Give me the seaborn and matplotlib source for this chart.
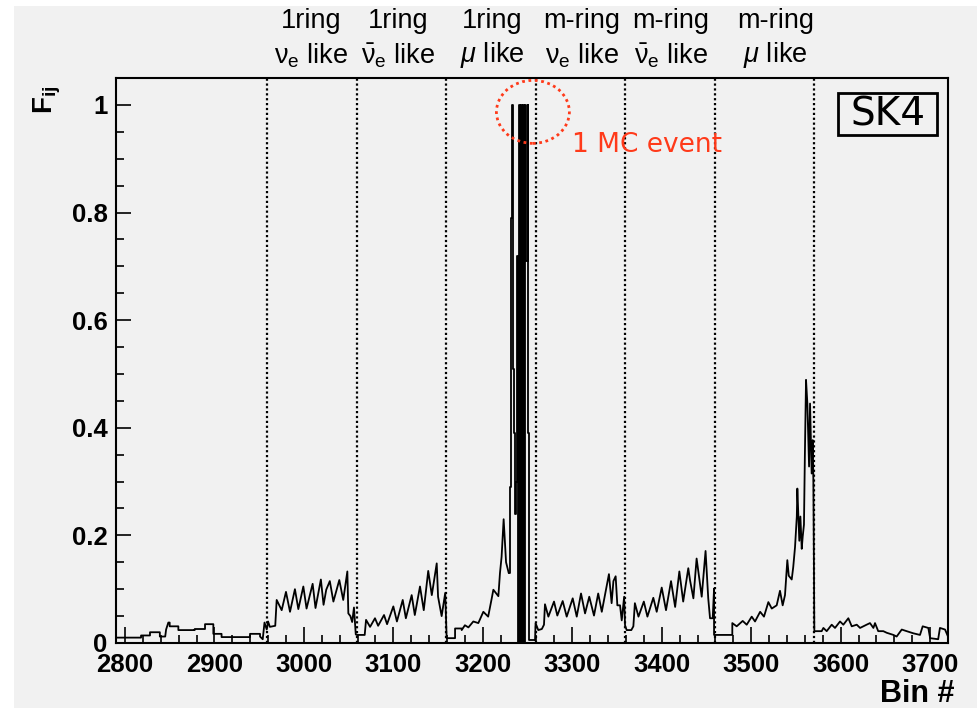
import numpy as np
import pandas as pd
import matplotlib
matplotlib.use("Agg")
import matplotlib.pyplot as plt
from matplotlib.patches import Ellipse, Rectangle
import seaborn as sns

# ---------------- data ----------------
# region: 2790-2959 (low, step-like)
r0_x = [2790, 2818, 2818, 2828, 2828, 2839, 2839, 2845, 2846, 2848.5, 2850, 2850, 2859.7, 2859.7,
        2878, 2878, 2889.5, 2889.5, 2898.8, 2898.8, 2908, 2908, 2919, 2919, 2939.8, 2939.8,
        2951, 2951, 2954, 2956, 2958.5]
r0_y = [0.010, 0.010, 0.014, 0.014, 0.020, 0.020, 0.012, 0.012, 0.025, 0.038, 0.038, 0.031, 0.031,
        0.024, 0.024, 0.026, 0.026, 0.035, 0.035, 0.017, 0.017, 0.011, 0.011, 0.011, 0.011, 0.017,
        0.017, 0.012, 0.007, 0.038, 0.025]
# 1ring nu_e like
r1_x = [2960, 2962, 2968, 2969.6, 2975.2, 2980, 2984.5, 2990, 2993.8, 2999.4, 3003, 3009.8, 3013,
        3019, 3022, 3025, 3029, 3033, 3039.6, 3044, 3048.6, 3049.7, 3052, 3054, 3056, 3058]
r1_y = [0.040, 0.030, 0.032, 0.080, 0.061, 0.095, 0.058, 0.100, 0.063, 0.105, 0.064, 0.110, 0.065,
        0.118, 0.071, 0.099, 0.115, 0.077, 0.117, 0.080, 0.133, 0.055, 0.050, 0.039, 0.066, 0.016]
# 1ring nu_e-bar like
r2_x = [3059, 3068, 3069.5, 3074, 3079.5, 3083, 3089.6, 3093, 3100, 3104, 3110.5, 3114, 3120.5,
        3124, 3129.8, 3134, 3139, 3143, 3148.5, 3150, 3154, 3158]
r2_y = [0.015, 0.015, 0.043, 0.030, 0.046, 0.032, 0.052, 0.035, 0.068, 0.040, 0.080, 0.046, 0.089,
        0.052, 0.105, 0.061, 0.134, 0.089, 0.148, 0.086, 0.050, 0.093]
# 1ring mu like (rising part)
r3_x = [3159.6, 3169, 3169, 3176.4, 3176.4, 3180, 3183.9, 3189.4, 3195, 3200.6, 3206, 3210,
        3211.8, 3217.4, 3219.2, 3221, 3223.3, 3226, 3229]
r3_y = [0.009, 0.009, 0.027, 0.027, 0.024, 0.033, 0.029, 0.040, 0.037, 0.058, 0.049, 0.083,
        0.099, 0.087, 0.130, 0.160, 0.230, 0.150, 0.130]
# 1ring mu like: single-bin spikes (1 MC event), one value per bin
spike_bins = list(range(3229, 3253)) + [3258.4]
spike_vals = [0.13, 0.29, 0.52, 0.79, 1.00, 0.51, 0.39, 0.24, 0.30, 0.72, 0.00, 0.72,
              1.00, 0.00, 1.00, 0.00, 1.00, 0.00, 1.00, 0.71, 0.71, 1.00, 0.39, 0.005, 0.005]
# m-ring nu_e like
r4_x = [3258.4, 3259, 3262, 3266, 3268.4, 3269.5, 3273.3, 3279.6, 3283.3, 3289.3, 3293.8, 3300.5,
        3305, 3309.8, 3314.3, 3319, 3324.3, 3329, 3333, 3341, 3344, 3346, 3348.5, 3350.4, 3353.4,
        3355.3, 3358]
r4_y = [0.005, 0.037, 0.024, 0.026, 0.034, 0.072, 0.049, 0.077, 0.051, 0.078, 0.049, 0.083,
        0.049, 0.092, 0.055, 0.086, 0.051, 0.092, 0.058, 0.128, 0.074, 0.115, 0.124, 0.070, 0.070,
        0.042, 0.086]
# m-ring nu_e-bar like
r5_x = [3359, 3360.8, 3366, 3368.3, 3370, 3374, 3380, 3384, 3390.6, 3394.4, 3400, 3404.8, 3410.4,
        3415, 3419.7, 3424, 3429.7, 3431.6, 3435.4, 3439, 3444.7, 3449, 3452, 3454, 3457, 3458.5]
r5_y = [0.033, 0.024, 0.024, 0.031, 0.074, 0.049, 0.077, 0.049, 0.084, 0.058, 0.103, 0.061, 0.115,
        0.067, 0.133, 0.077, 0.139, 0.117, 0.083, 0.157, 0.086, 0.171, 0.083, 0.046, 0.046, 0.101]
# m-ring mu like
r6_x = [3458.5, 3478.9, 3478.9, 3483.8, 3490.5, 3495, 3500.6, 3504.3, 3510, 3514.3, 3519.2, 3523,
        3528.5, 3532.2, 3535.2, 3537.8, 3540.4, 3542, 3545.3, 3547, 3549, 3551, 3551.6, 3553.8,
        3555, 3556.5, 3557.6, 3559, 3560, 3561.3, 3562.8, 3564.7, 3565.8, 3567.6, 3568.8, 3569.5,
        3570.6]
r6_y = [0.015, 0.015, 0.037, 0.031, 0.041, 0.034, 0.049, 0.040, 0.058, 0.049, 0.076, 0.064,
        0.070, 0.097, 0.070, 0.089, 0.154, 0.125, 0.118, 0.141, 0.178, 0.235, 0.287, 0.190,
        0.235, 0.175, 0.198, 0.220, 0.347, 0.489, 0.445, 0.328, 0.445, 0.315, 0.377, 0.303,
        0.022]
# remaining bins
r7_x = [3578.8, 3580.7, 3584.4, 3590, 3593.7, 3599.3, 3603, 3608.6, 3612.4, 3618, 3621.7, 3629,
        3632.8, 3636.6, 3638.4, 3642, 3647.7, 3651.5, 3659, 3662.6, 3668.3, 3673.8, 3681.3,
        3688.7, 3691.7, 3698, 3700, 3709, 3711, 3716.7, 3720]
r7_y = [0.022, 0.028, 0.022, 0.034, 0.028, 0.040, 0.034, 0.046, 0.031, 0.034, 0.028, 0.034,
        0.037, 0.028, 0.037, 0.022, 0.022, 0.019, 0.015, 0.012, 0.025, 0.022, 0.018, 0.015,
        0.031, 0.028, 0.009, 0.007, 0.028, 0.025, 0.012]

boundaries = [2959, 3059, 3159, 3259, 3359, 3459, 3570]
labels_line1 = ["1ring", "1ring", "1ring", "m-ring", "m-ring", "m-ring"]
labels_line2 = [r"$\mathrm{\nu}_\mathrm{e}$ like", r"$\bar{\mathrm{\nu}}_\mathrm{e}$ like",
                r"$\mu$ like", r"$\mathrm{\nu}_\mathrm{e}$ like",
                r"$\bar{\mathrm{\nu}}_\mathrm{e}$ like", r"$\mu$ like"]
label_pos = [3008, 3105, 3210, 3311, 3410, 3527]

# ---------------- build tables ----------------
left_x = r0_x + r1_x + r2_x + r3_x
left_y = r0_y + r1_y + r2_y + r3_y
right_x = r4_x + r5_x + r6_x + r7_x
right_y = r4_y + r5_y + r6_y + r7_y
df_left = pd.DataFrame({"bin": left_x, "F": left_y})
df_spike = pd.DataFrame({"bin": spike_bins, "F": spike_vals})
df_right = pd.DataFrame({"bin": right_x, "F": right_y})

BG = "#f1f1f1"
sns.set_theme(style="ticks")
plt.rcParams["font.family"] = ["Liberation Sans", "DejaVu Sans"]
plt.rcParams["mathtext.fontset"] = "custom"
plt.rcParams["mathtext.rm"] = "Liberation Sans"
plt.rcParams["mathtext.it"] = "Liberation Sans:italic"
plt.rcParams["mathtext.bf"] = "Liberation Sans:bold"
for k in ["text.color", "axes.labelcolor", "xtick.color", "ytick.color", "axes.edgecolor"]:
    plt.rcParams[k] = "black"

fig = plt.figure(figsize=(9.77, 7.08), dpi=100, facecolor=BG)
# white margins of the original screenshot (top and left), behind everything
fig.patches.append(Rectangle((0, 1 - 6 / 708), 1, 6 / 708, transform=fig.transFigure,
                             facecolor="white", edgecolor="none", zorder=-10))
fig.patches.append(Rectangle((0, 0), 14 / 977, 1, transform=fig.transFigure,
                             facecolor="white", edgecolor="none", zorder=-10))
ax = fig.add_axes([116 / 977, 65 / 708, 832 / 977, 565 / 708])
ax.set_facecolor(BG)

lw = 1.3
sns.lineplot(data=df_left, x="bin", y="F", sort=False, estimator=None, color="black", lw=lw, ax=ax)
sns.lineplot(data=df_spike, x="bin", y="F", sort=False, estimator=None, color="black", lw=lw,
             drawstyle="steps-post", ax=ax)
sns.lineplot(data=df_right, x="bin", y="F", sort=False, estimator=None, color="black", lw=lw, ax=ax)

for b in boundaries:
    ax.axvline(b, color="black", lw=1.6, ls=(0, (1, 1.2)), zorder=1)

ax.set_xlim(2790, 3720)
ax.set_ylim(0, 1.05)
ax.set_xticks(np.arange(2800, 3701, 100))
ax.set_xticks(np.arange(2800, 3721, 20), minor=True)
ax.set_yticks([0, 0.2, 0.4, 0.6, 0.8, 1.0])
ax.set_yticklabels(["0", "0.2", "0.4", "0.6", "0.8", "1"])
ax.set_yticks(np.arange(0, 1.051, 0.05), minor=True)
ax.tick_params(axis="both", which="both", direction="in", colors="black", width=1.2)
ax.tick_params(axis="x", which="major", length=11.5, pad=7, labelsize=18.5)
ax.tick_params(axis="x", which="minor", length=5.8)
ax.tick_params(axis="y", which="major", length=11, pad=6, labelsize=18.5)
ax.tick_params(axis="y", which="minor", length=5.5)
for lab in ax.get_xticklabels() + ax.get_yticklabels():
    lab.set_fontweight("bold")
for sp in ax.spines.values():
    sp.set_linewidth(1.5)
    sp.set_color("black")
ax.set_xlabel("")
ax.set_ylabel("")

# region labels above the frame
tr = ax.get_xaxis_transform()
for xp, l1, l2 in zip(label_pos, labels_line1, labels_line2):
    ax.text(xp, 1.101, l1, transform=tr, ha="center", va="center", fontsize=19.5, clip_on=False)
    ax.text(xp, 1.040, l2, transform=tr, ha="center", va="center", fontsize=19.5, clip_on=False)

# SK4 box
ax.add_patch(Rectangle((0.868, 0.899), 0.119, 0.074, transform=ax.transAxes, facecolor=BG,
                       edgecolor="black", lw=2, zorder=5))
ax.text(0.9275, 0.936, "SK4", transform=ax.transAxes, ha="center", va="center", fontsize=28,
        family="DejaVu Sans", zorder=6)

# 1 MC event annotation
ax.add_patch(Ellipse((3256, 0.987), 81.6, 0.117, fill=False, edgecolor="#ff3a1a", lw=2,
                     ls=(0, (1, 1.3)), clip_on=False, zorder=6))
ax.text(3300, 0.926, "1 MC event", color="#ff3a1a", fontsize=19, family="DejaVu Sans",
        ha="left", va="center")

# axis titles
fig.text(955 / 977, 6 / 708, "Bin #", ha="right", va="baseline", fontsize=22, fontweight="bold")
fig.text(47 / 977, 1 - 85 / 708, r"F$_{\mathbf{ij}}$", rotation=90, ha="center", va="top",
         fontsize=20, fontweight="bold")

fig.savefig("out.png", dpi=100, facecolor=BG)
